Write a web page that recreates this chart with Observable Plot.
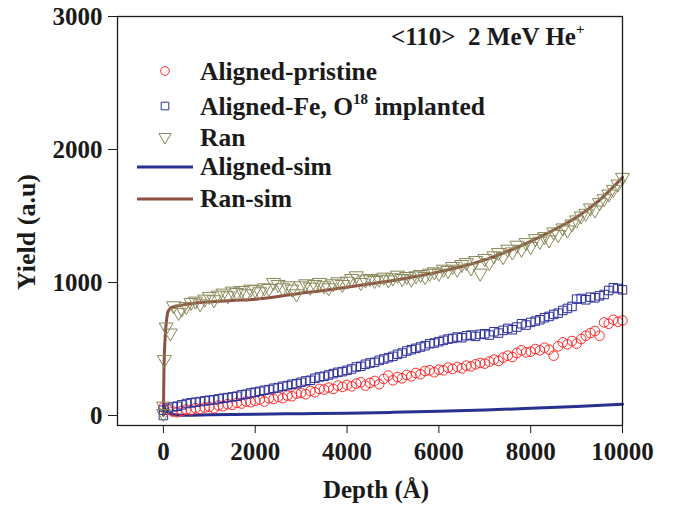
<!DOCTYPE html>
<html>
<head>
<meta charset="utf-8">
<script src="https://cdn.jsdelivr.net/npm/d3@7"></script>
<script src="https://cdn.jsdelivr.net/npm/@observablehq/plot@0.6"></script>
<style>
  html, body { margin: 0; padding: 0; background: #fff; }
  #chart { width: 676px; height: 509px; }
</style>
</head>
<body>
<div id="chart"></div>
<script>
// ---------- data ----------
const xTicks = [0, 2000, 4000, 6000, 8000, 10000];
const yTicks = [0, 1000, 2000, 3000];

const alignedDepth = [0,100,200,300,400,500,600,700,800,900,1000,1100,1200,1300,1400,1500,1600,1700,1800,1900,2000,2100,2200,2300,2400,2500,2600,2700,2800,2900,3000,3100,3200,3300,3400,3500,3600,3700,3800,3900,4000,4100,4200,4300,4400,4500,4600,4700,4800,4900,5000,5100,5200,5300,5400,5500,5600,5700,5800,5900,6000,6100,6200,6300,6400,6500,6600,6700,6800,6900,7000,7100,7200,7300,7400,7500,7600,7700,7800,7900,8000,8100,8200,8300,8400,8500,8600,8700,8800,8900,9000,9100,9200,9300,9400,9500,9600,9700,9800,9900,10000];

const pristine = [60,45,30,25,35,45,40,55,50,60,65,55,75,70,85,80,95,90,105,100,110,120,105,130,125,140,130,150,145,165,170,160,185,175,200,195,210,200,225,215,230,220,240,250,225,245,260,235,275,300,265,290,280,305,295,320,310,335,340,325,345,340,360,350,365,355,375,370,385,395,390,405,420,410,435,450,440,470,490,475,480,500,490,510,495,450,520,550,535,560,540,575,600,620,635,600,700,690,720,705,715];

const implanted = [40,55,65,70,80,90,95,100,105,110,115,118,125,130,135,140,145,155,160,170,175,182,190,195,205,210,220,225,235,240,250,260,265,280,290,295,305,315,325,330,340,350,365,370,385,395,400,415,425,435,445,460,470,485,495,505,515,525,540,545,555,565,575,580,590,585,600,605,595,610,615,605,630,620,640,655,645,665,690,680,700,710,720,735,745,760,770,790,805,820,875,880,870,890,885,900,910,940,960,955,945];

const ranDepth = [0,5,20,60,150,220,330,400,500,600,700,800,900,1000,1100,1200,1300,1400,1500,1600,1700,1800,1900,2000,2100,2200,2300,2400,2500,2600,2700,2800,2900,3000,3100,3200,3300,3400,3500,3600,3700,3800,3900,4000,4100,4200,4300,4400,4500,4600,4700,4800,4900,5000,5100,5200,5300,5400,5500,5600,5700,5800,5900,6000,6100,6200,6300,6400,6500,6600,6700,6800,6900,7000,7100,7200,7300,7400,7500,7600,7700,7800,7900,8000,8100,8200,8300,8400,8500,8600,8700,8800,8900,9000,9100,9200,9300,9400,9500,9600,9700,9800,9900,10000];

const ran = [15,70,420,665,620,825,775,800,820,850,860,840,875,895,870,905,920,900,935,925,940,915,950,945,930,960,955,1000,985,960,975,950,915,975,990,965,985,1000,975,960,990,1005,985,1010,1030,1050,1000,1020,1030,1015,1025,1040,1020,1035,1055,1030,1045,1025,1050,1060,1045,1070,1080,1070,1100,1090,1120,1100,1135,1150,1110,1165,1070,1180,1150,1200,1225,1195,1250,1230,1280,1250,1300,1270,1330,1310,1345,1320,1380,1360,1410,1395,1440,1470,1500,1520,1560,1545,1600,1630,1665,1700,1740,1790];

const alignedSimDepth = [0,50,100,200,300,500,1000,2000,3000,4000,5000,6000,7000,8000,9000,10000];
const alignedSim = [75,45,25,10,4,2,5,10,14,18,24,32,42,54,68,85];

const ranSimDepth = [0,5,10,20,40,70,100,150,250,400,600,800,1000,1500,2000,2500,3000,3500,4000,4500,5000,5500,6000,6500,7000,7500,8000,8500,9000,9500,10000];
const ranSim = [0,150,300,450,600,720,780,805,820,830,840,850,855,865,875,895,920,940,965,990,1015,1045,1080,1120,1170,1235,1310,1395,1490,1620,1790];

const seriesNames = ["Aligned-pristine", "Aligned-Fe, O", "Ran", "Aligned-sim", "Ran-sim"];
const titleText = "<110>  2 MeV He";
const xLabel = "Depth (Å)";
const yLabel = "Yield (a.u)";

// ---------- colours ----------
const cPristine = "#ff2a2a";
const cImplanted = "#2b2f9a";
const cRan = "#8a8858";
const cAlignedSim = "#27318f";
const cRanSim = "#8f4f42";
const ink = "#1a1a1a";
const font = "'Liberation Serif', 'Times New Roman', serif";

// ---------- build tables ----------
const pristineData = alignedDepth.map((d, i) => ({d, y: pristine[i]}));
const implantedData = alignedDepth.map((d, i) => ({d, y: implanted[i]})).concat([{d: 0, y: 0}]);
const ranData = ranDepth.map((d, i) => ({d, y: ran[i]}));
const alignedSimData = alignedSimDepth.map((d, i) => ({d, y: alignedSim[i]}));
const ranSimData = ranSimDepth.map((d, i) => ({d, y: ranSim[i]}));

const rDot = 4.8, rTri = 5.2;

const plot = Plot.plot({
  width: 676,
  height: 509,
  marginLeft: 117,
  marginRight: 54,
  marginTop: 16,
  marginBottom: 84,
  style: {fontFamily: font, fontSize: "25px", fontWeight: "bold", color: ink, background: "#fff"},
  x: {domain: [-1000, 10000], ticks: xTicks, tickSize: 8, tickPadding: 9, tickFormat: d => String(d), label: null},
  y: {domain: [-75, 3000], ticks: yTicks, tickSize: 9, tickPadding: 6, tickFormat: d => String(d), label: null},
  marks: [
    Plot.line(alignedSimData, {x: "d", y: "y", stroke: cAlignedSim, strokeWidth: 3, curve: "monotone-x"}),
    Plot.line(ranSimData, {x: "d", y: "y", stroke: cRanSim, strokeWidth: 3, curve: "monotone-x"}),
    Plot.dot(pristineData, {x: "d", y: "y", symbol: "circle", r: rDot, stroke: cPristine, fill: "none", strokeWidth: 1}),
    Plot.dot(implantedData, {x: "d", y: "y", symbol: "square", r: rDot, stroke: cImplanted, fill: "none", strokeWidth: 1}),
    Plot.dot(ranData, {x: "d", y: "y", symbol: "triangle", rotate: 180, r: rTri, stroke: cRan, fill: "none", strokeWidth: 1}),
    Plot.frame({stroke: ink, strokeWidth: 1.3})
  ]
});
document.getElementById("chart").appendChild(plot);

// ---------- legend & labels ----------
const svg = d3.select(plot.tagName.toLowerCase() === "svg" ? plot : plot.querySelector("svg"));
const g = svg.append("g")
  .attr("font-family", font).attr("font-weight", "bold").attr("font-size", 25.5)
  .attr("fill", ink).attr("text-anchor", "start");

// title
const t = g.append("text").attr("x", 391).attr("y", 45).attr("font-size", 25).attr("xml:space", "preserve").style("white-space", "pre");
t.append("tspan").text(titleText);
t.append("tspan").attr("dy", -11).attr("font-size", 15).text("+");

const textX = 200, symX = 165;
const baselines = [80, 115, 146, 175, 207];

// symbols
const sym = (type, r) => d3.symbol().type(type).size(Math.PI * r * r)();
g.append("path").attr("d", sym(d3.symbolCircle, 4.3)).attr("transform", `translate(${symX},${baselines[0] - 9})`)
  .attr("fill", "none").attr("stroke", cPristine);
g.append("path").attr("d", sym(d3.symbolSquare, 4.3)).attr("transform", `translate(${symX},${baselines[1] - 9})`)
  .attr("fill", "none").attr("stroke", cImplanted);
g.append("path").attr("d", sym(d3.symbolTriangle, 4.5)).attr("transform", `translate(${symX},${baselines[2] - 9}) rotate(180)`)
  .attr("fill", "none").attr("stroke", cRan);
g.append("line").attr("x1", 137).attr("x2", 193).attr("y1", baselines[3] - 8).attr("y2", baselines[3] - 8)
  .attr("stroke", cAlignedSim).attr("stroke-width", 3);
g.append("line").attr("x1", 137).attr("x2", 193).attr("y1", baselines[4] - 8).attr("y2", baselines[4] - 8)
  .attr("stroke", cRanSim).attr("stroke-width", 3);

seriesNames.forEach((name, i) => {
  const tx = g.append("text").attr("x", textX).attr("y", baselines[i]);
  tx.append("tspan").text(name);
  if (i === 1) {
    tx.append("tspan").attr("dy", -11).attr("font-size", 15).text("18");
    tx.append("tspan").attr("dy", 11).text(" implanted");
  }
});

// axis titles
g.append("text").attr("x", 376).attr("y", 498).attr("font-size", 25).attr("text-anchor", "middle").text(xLabel);
g.append("text").attr("transform", "translate(35,232) rotate(-90)").attr("font-size", 26).attr("text-anchor", "middle").text(yLabel);
</script>
</body>
</html>
